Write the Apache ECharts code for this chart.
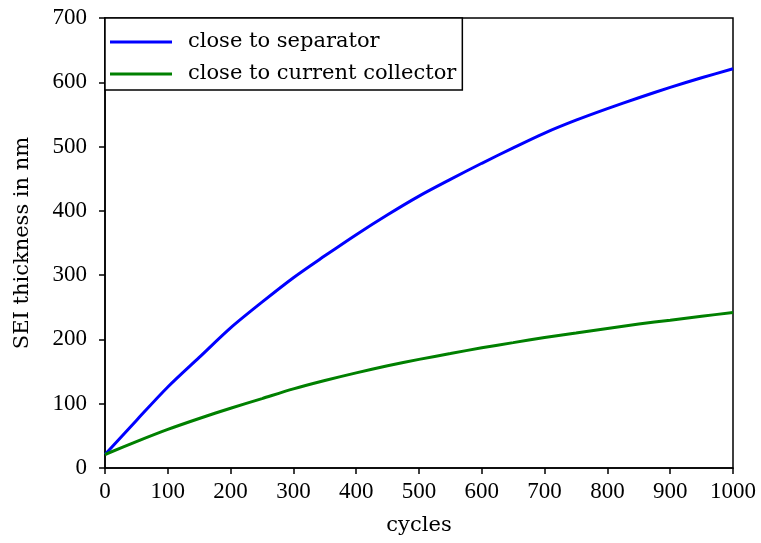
<!DOCTYPE html>
<html>
<head>
<meta charset="utf-8">
<script src="https://cdn.jsdelivr.net/npm/echarts@6/dist/echarts.min.js"></script>
<style>
html,body{margin:0;padding:0;background:#fff;}
#c{width:761px;height:543px;}
</style>
</head>
<body>
<div id="c"></div>
<script>
var cycles = [0, 50, 100, 150, 200, 250, 300, 350, 400, 450, 500, 550, 600, 650, 700, 750, 800, 850, 900, 950, 1000];
var separator = [21, 74, 126, 172, 218, 258, 296, 330, 363, 394, 423, 449, 474, 498, 521, 541, 559, 576, 592, 607, 621];
var collector = [21, 41, 60, 77, 93, 108, 123, 136, 148, 159, 169, 178, 187, 195, 203, 210, 217, 224, 230, 236, 242];
var seriesNames = ['close to separator', 'close to current collector'];
var xLabel = 'cycles';
var yLabel = 'SEI thickness in nm';

function pairs(xs, ys) { return xs.map(function (x, i) { return [x, ys[i]]; }); }

var font = 'DejaVu Serif';
var tickFont = 'Liberation Serif';
var chart = echarts.init(document.getElementById('c'), null, {renderer: 'canvas'});
chart.setOption({
  animation: false,
  backgroundColor: '#fff',
  grid: {left: 105, right: 28, top: 18, bottom: 75, show: true, borderColor: '#000', borderWidth: 1.5, backgroundColor: 'transparent'},
  legend: {
    left: 105, top: 18, orient: 'vertical',
    backgroundColor: '#fff',
    borderColor: '#000', borderWidth: 1.5, borderRadius: 0,
    padding: [13, 6, 5, 5],
    itemGap: 10, itemWidth: 62, itemHeight: 3, icon: 'rect',
    textStyle: {fontFamily: font, fontSize: 21, color: '#000', lineHeight: 22, padding: [0, 0, 0, 11]},
    data: seriesNames
  },
  xAxis: {
    type: 'value', min: 0, max: 1000, interval: 100,
    name: xLabel, nameLocation: 'middle', nameGap: 47,
    nameTextStyle: {fontFamily: font, fontSize: 21, color: '#000'},
    axisLine: {show: true, lineStyle: {color: '#000', width: 1.5}},
    axisTick: {show: true, inside: false, length: 6, lineStyle: {color: '#000', width: 1.5}},
    axisLabel: {fontFamily: tickFont, fontSize: 23, color: '#000', margin: 12, formatter: function (v) { return String(v); }},
    splitLine: {show: false}
  },
  yAxis: {
    type: 'value', min: 0, max: 700, interval: 100,
    name: yLabel, nameLocation: 'middle', nameGap: 72, nameRotate: 90,
    nameTextStyle: {fontFamily: font, fontSize: 21, color: '#000'},
    axisLine: {show: true, lineStyle: {color: '#000', width: 1.5}},
    axisTick: {show: true, inside: false, length: 6, lineStyle: {color: '#000', width: 1.5}},
    axisLabel: {fontFamily: tickFont, fontSize: 23, color: '#000', margin: 18, formatter: function (v) { return String(v); }},
    splitLine: {show: false}
  },
  series: [
    {name: seriesNames[0], type: 'line', data: pairs(cycles, separator), smooth: 0.3, showSymbol: false,
     lineStyle: {color: '#0000ff', width: 3}, itemStyle: {color: '#0000ff'}},
    {name: seriesNames[1], type: 'line', data: pairs(cycles, collector), smooth: 0.3, showSymbol: false,
     lineStyle: {color: '#008000', width: 3}, itemStyle: {color: '#008000'}}
  ]
});
</script>
</body>
</html>
